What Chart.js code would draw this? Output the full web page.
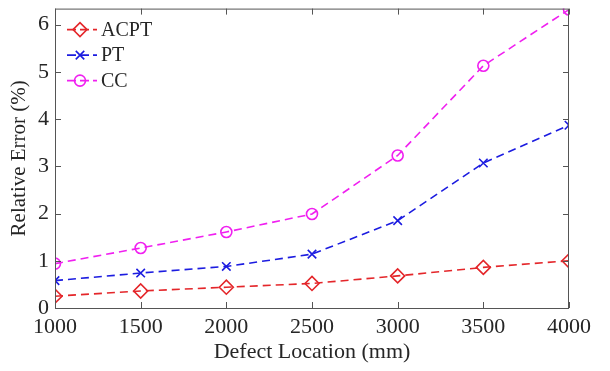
<!DOCTYPE html>
<html>
<head>
<meta charset="utf-8">
<script src="https://cdn.jsdelivr.net/npm/chart.js@4/dist/chart.umd.min.js"></script>
<style>
  html, body { margin: 0; padding: 0; background: #fff; }
  canvas { display: block; }
</style>
</head>
<body>
<canvas id="errChart" width="610" height="371"></canvas>
<script>
// defect locations (mm) and relative error (%) per method
const locations = [1000, 1500, 2000, 2500, 3000, 3500, 4000];
const acpt = [0.25, 0.36, 0.44, 0.52, 0.68, 0.86, 1.00];
const pt = [0.58, 0.74, 0.88, 1.14, 1.85, 3.07, 3.87];
const cc = [0.94, 1.27, 1.61, 1.99, 3.23, 5.13, 6.32];
const xTicks = [1000, 1500, 2000, 2500, 3000, 3500, 4000];
const yTicks = [0, 1, 2, 3, 4, 5, 6];

const serif = 'Liberation Serif';
const ink = '#262626';

const series = [
    { label: 'ACPT', data: acpt, color: '#e4262a', style: 'rectRot', radius: 7 },
    { label: 'PT', data: pt, color: '#1c1ce0', style: 'crossRot', radius: 6 },
    { label: 'CC', data: cc, color: '#f020f0', style: 'circle', radius: 5.5 }
];

// box around the plot with inward ticks on all four sides
const boxAxes = {
    id: 'boxAxes',
    afterDraw(chart) {
        const { ctx, chartArea: a, scales } = chart;
        const len = 6;
        ctx.save();
        ctx.strokeStyle = '#555';
        ctx.lineWidth = 1;
        ctx.strokeRect(a.left + 0.5, a.top + 0.5, a.right - a.left - 1, a.bottom - a.top);
        ctx.beginPath();
        xTicks.forEach(v => {
            const x = Math.round(scales.x.getPixelForValue(v)) + 0.5;
            ctx.moveTo(x, a.bottom); ctx.lineTo(x, a.bottom - len);
            ctx.moveTo(x, a.top); ctx.lineTo(x, a.top + len);
        });
        yTicks.forEach(v => {
            const y = Math.round(scales.y.getPixelForValue(v)) + 0.5;
            ctx.moveTo(a.left, y); ctx.lineTo(a.left + len, y);
            ctx.moveTo(a.right, y); ctx.lineTo(a.right - len, y);
        });
        ctx.stroke();
        ctx.restore();
    }
};

// legend in the top-left corner: dashed line with marker, then label
const cornerLegend = {
    id: 'cornerLegend',
    afterDraw(chart) {
        const { ctx, chartArea: a } = chart;
        const x0 = a.left + 12;
        ctx.save();
        ctx.font = '20px "' + serif + '"';
        ctx.textBaseline = 'middle';
        series.forEach((s, i) => {
            const y = a.top + 21 + i * 25.5;
            ctx.strokeStyle = s.color;
            ctx.fillStyle = 'rgba(0,0,0,0)';
            ctx.lineWidth = 1.6;
            ctx.setLineDash([9, 4]);
            ctx.beginPath();
            ctx.moveTo(x0, y);
            ctx.lineTo(x0 + 30, y);
            ctx.stroke();
            ctx.setLineDash([]);
            Chart.helpers.drawPoint(ctx, {
                pointStyle: s.style,
                radius: s.radius,
                borderWidth: 1.6
            }, x0 + 13, y);
            ctx.fillStyle = ink;
            ctx.fillText(s.label, x0 + 34, y + 1);
        });
        ctx.restore();
    }
};

new Chart(document.getElementById('errChart'), {
    type: 'line',
    data: {
        datasets: series.map(s => ({
            label: s.label,
            data: locations.map((x, i) => ({ x: x, y: s.data[i] })),
            borderColor: s.color,
            backgroundColor: 'transparent',
            borderWidth: 1.6,
            borderDash: [8, 5],
            pointStyle: s.style,
            pointRadius: s.radius,
            pointBorderColor: s.color,
            pointBorderWidth: 1.6,
            pointBackgroundColor: 'transparent',
            tension: 0
        }))
    },
    options: {
        responsive: false,
        animation: false,
        layout: { padding: { top: 7, right: 41, left: 0, bottom: 0 } },
        plugins: {
            legend: { display: false },
            tooltip: { enabled: false }
        },
        scales: {
            x: {
                type: 'linear',
                min: 1000,
                max: 4000,
                afterBuildTicks: scale => { scale.ticks = xTicks.map(v => ({ value: v })); },
                afterFit: scale => { scale.height = 63; },
                grid: { display: false, drawTicks: false },
                border: { display: false },
                ticks: {
                    color: ink,
                    padding: 6,
                    maxRotation: 0,
                    font: { family: serif, size: 22 },
                    callback: v => String(v)
                },
                title: {
                    display: true,
                    text: 'Defect Location (mm)',
                    color: ink,
                    font: { family: serif, size: 22 },
                    padding: { top: 0, bottom: 6 }
                }
            },
            y: {
                min: 0,
                max: 6.34,
                afterBuildTicks: scale => { scale.ticks = yTicks.map(v => ({ value: v })); },
                afterFit: scale => {
                    scale.width = 55;
                    scale.paddingTop = 0;
                    scale.paddingBottom = 0;
                },
                grid: { display: false, drawTicks: false },
                border: { display: false },
                ticks: {
                    color: ink,
                    padding: 6,
                    font: { family: serif, size: 22 },
                    callback: v => String(v)
                },
                title: {
                    display: true,
                    text: 'Relative Error (%)',
                    color: ink,
                    font: { family: serif, size: 21 },
                    padding: { top: 7, bottom: 0 }
                }
            }
        }
    },
    plugins: [boxAxes, cornerLegend]
});
</script>
</body>
</html>
